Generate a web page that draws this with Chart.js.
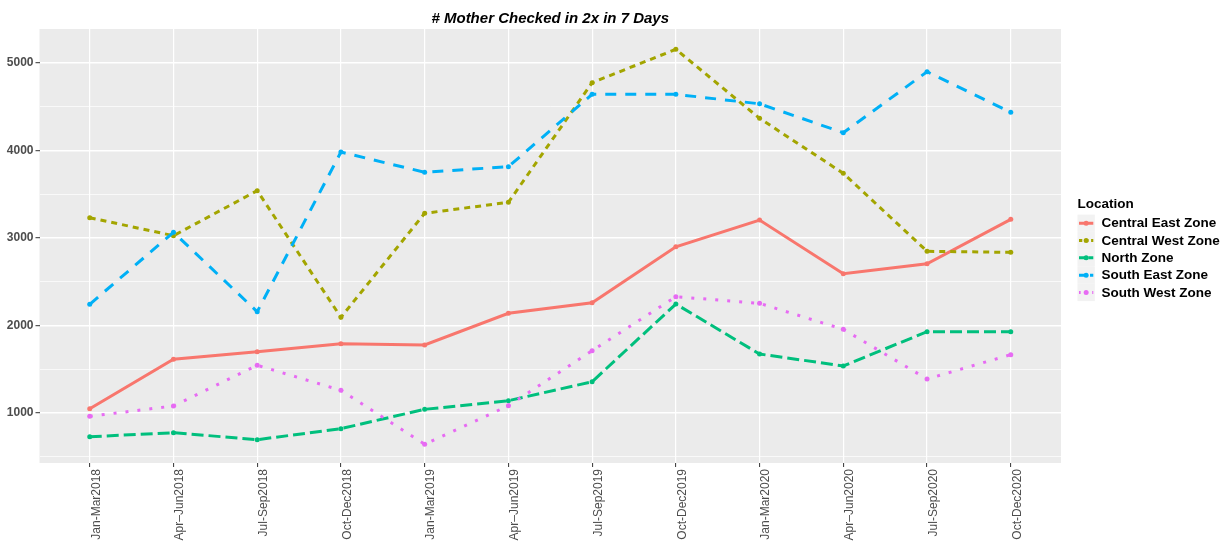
<!DOCTYPE html>
<html>
<head>
<meta charset="utf-8">
<script src="https://cdn.jsdelivr.net/npm/chart.js@4.4.1/dist/chart.umd.min.js"></script>
<style>
  body { margin: 0; background: #fff; }
  canvas { display: block; }
</style>
</head>
<body>
<canvas id="chart" width="1231" height="545"></canvas>
<script>
const periods = ['Jan-Mar2018', 'Apr–Jun2018', 'Jul-Sep2018', 'Oct-Dec2018', 'Jan-Mar2019', 'Apr–Jun2019',
                 'Jul-Sep2019', 'Oct-Dec2019', 'Jan-Mar2020', 'Apr–Jun2020', 'Jul-Sep2020', 'Oct-Dec2020'];

const centralEast = [1049, 1613, 1700, 1791, 1776, 2138, 2259, 2898, 3203, 2590, 2704, 3211];
const centralWest = [3230, 3024, 3538, 2092, 3280, 3405, 4771, 5152, 4364, 3736, 2846, 2834];
const north       = [729, 775, 695, 821, 1042, 1140, 1357, 2244, 1673, 1537, 1928, 1928];
const southEast   = [2241, 3063, 2156, 3979, 3748, 3812, 4638, 4638, 4530, 4200, 4896, 4433];
const southWest   = [962, 1080, 1545, 1259, 643, 1083, 1711, 2328, 2252, 1955, 1388, 1666];

const yTicks = [500, 1000, 1500, 2000, 2500, 3000, 3500, 4000, 4500, 5000];

const chartTitle = '# Mother Checked in 2x in 7 Days';
const legendTitle = 'Location';

const FONT = '"Liberation Sans", Arial, sans-serif';
Chart.defaults.font.family = FONT;

// one entry per zone: name, values, colour, dash pattern (ggplot linetypes solid, 22, 42, 44, 13)
const zones = [
    { name: 'Central East Zone', values: centralEast, color: '#F8766D', dash: [] },
    { name: 'Central West Zone', values: centralWest, color: '#A3A500', dash: [6, 5] },
    { name: 'North Zone',        values: north,       color: '#00BF7D', dash: [12, 5] },
    { name: 'South East Zone',   values: southEast,   color: '#00B0F6', dash: [11, 9] },
    { name: 'South West Zone',   values: southWest,   color: '#E76BF3', dash: [3, 9] }
];

const datasets = zones.map((z, i) => ({
    label: z.name,
    data: z.values.map((v, k) => ({ x: k, y: v })),
    borderColor: z.color,
    backgroundColor: z.color,
    borderWidth: 3,
    borderDash: z.dash,
    borderCapStyle: 'butt',
    pointRadius: 2.5,
    pointBorderWidth: 0,
    pointBackgroundColor: z.color,
    tension: 0,
    fill: false,
    order: zones.length - i
}));

// grey panel, title and the ggplot-like legend
const decor = {
    id: 'decor',
    beforeDraw(chart) {
        const { ctx, chartArea: a } = chart;
        ctx.save();
        ctx.fillStyle = '#EBEBEB';
        ctx.fillRect(a.left, a.top, a.right - a.left, a.bottom - a.top);
        ctx.restore();
    },
    afterDraw(chart) {
        const { ctx, chartArea: a } = chart;
        ctx.save();
        ctx.fillStyle = '#000';
        ctx.font = 'italic bold 15px ' + FONT;
        ctx.textAlign = 'center';
        ctx.textBaseline = 'alphabetic';
        ctx.fillText(chartTitle, (a.left + a.right) / 2, 23);

        const left = 1077.5, keyW = 17.3, top = 214.6;
        ctx.textAlign = 'left';
        ctx.font = 'bold 13.5px ' + FONT;
        ctx.fillText(legendTitle, left, 208);

        zones.forEach((z, i) => {
            const y0 = top + i * keyW;
            const cy = y0 + keyW / 2;
            ctx.fillStyle = '#F2F2F2';
            ctx.fillRect(left, y0, keyW, keyW);
            ctx.strokeStyle = z.color;
            ctx.lineWidth = 3;
            ctx.setLineDash(z.dash.length ? z.dash.map(d => d * 0.55) : []);
            ctx.beginPath();
            ctx.moveTo(left + 1.5, cy);
            ctx.lineTo(left + keyW - 1.5, cy);
            ctx.stroke();
            ctx.setLineDash([]);
            ctx.fillStyle = z.color;
            ctx.beginPath();
            ctx.arc(left + keyW / 2, cy, 2.5, 0, Math.PI * 2);
            ctx.fill();
            ctx.fillStyle = '#000';
            ctx.textBaseline = 'middle';
            ctx.fillText(z.name, 1101.5, cy + 0.5);
        });
        ctx.restore();
    }
};

new Chart(document.getElementById('chart'), {
    type: 'line',
    data: { datasets: datasets },
    options: {
        responsive: false,
        animation: false,
        devicePixelRatio: 1,
        layout: { padding: { top: 29, right: 170, left: 0, bottom: 0 } },
        plugins: {
            legend: { display: false },
            title: { display: false },
            tooltip: { enabled: false }
        },
        scales: {
            x: {
                type: 'linear',
                min: -0.6,
                max: 11.6,
                afterBuildTicks: scale => { scale.ticks = periods.map((p, i) => ({ value: i })); },
                afterFit: scale => { scale.height = 82; },
                border: { display: false },
                grid: { color: '#FFFFFF', lineWidth: 1.2, tickColor: '#333333', tickLength: 4, tickWidth: 1 },
                ticks: {
                    autoSkip: false,
                    minRotation: 90,
                    maxRotation: 90,
                    padding: 2,
                    labelOffset: 6.5,
                    color: '#4D4D4D',
                    font: { size: 12 },
                    callback: v => periods[v]
                }
            },
            y: {
                type: 'linear',
                min: 429,
                max: 5384,
                afterBuildTicks: scale => { scale.ticks = yTicks.map(v => ({ value: v })); },
                afterFit: scale => { scale.width = 39.5; },
                border: { display: false },
                grid: {
                    color: '#FFFFFF',
                    lineWidth: c => (c.tick && c.tick.value % 1000 ? 0.7 : 1.4),
                    tickColor: c => (c.tick && c.tick.value % 1000 ? 'rgba(0,0,0,0)' : '#333333'),
                    tickLength: 4,
                    tickWidth: 1
                },
                ticks: {
                    padding: 2,
                    color: '#4D4D4D',
                    font: { size: 12, weight: 'bold' },
                    callback: v => (v % 1000 ? '' : String(v))
                }
            }
        }
    },
    plugins: [decor]
});
</script>
</body>
</html>
